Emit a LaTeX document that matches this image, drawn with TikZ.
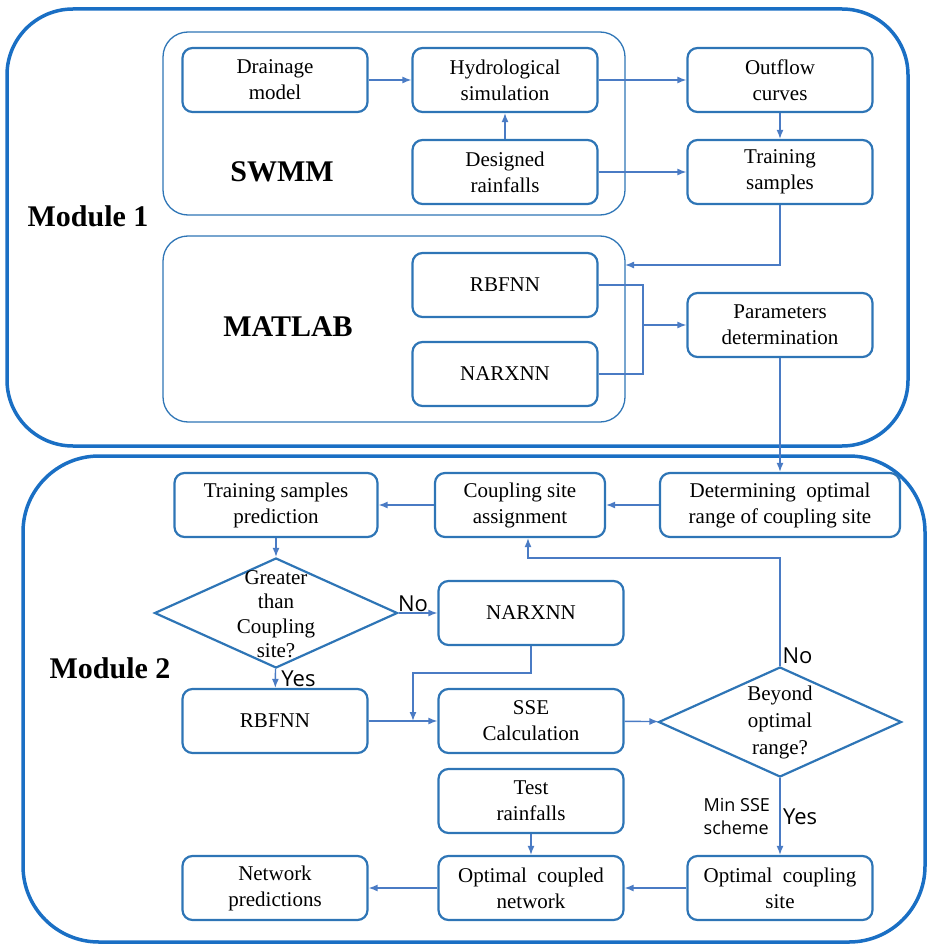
\documentclass[tikz,border=0pt]{standalone}
\usepackage{fontspec}
\setmainfont{Liberation Serif}
\newfontfamily\answerfont{Open Sans}
\usetikzlibrary{shapes.geometric,arrows.meta,positioning}
\definecolor{boxblue}{HTML}{2E75B6}
\definecolor{linkblue}{HTML}{4A7BC4}
\definecolor{modblue}{HTML}{1A6FC4}
\tikzset{
	block/.style={draw=boxblue, line width=2.2pt, rounded corners=10pt, minimum width=185pt, minimum height=64pt, align=center, inner sep=2pt, font=\fontsize{21}{26}\selectfont},
	decision/.style={draw=boxblue, line width=2.2pt, diamond, minimum width=243pt, minimum height=110pt, inner sep=0pt},
	group/.style={draw=boxblue, line width=1.3pt, rounded corners=25pt},
	module/.style={draw=modblue, line width=3.5pt, rounded corners=66pt},
	link/.style={draw=linkblue, line width=1.4pt, -{Latex[length=9pt,width=7pt]}},
	plain/.style={draw=linkblue, line width=1.4pt},
	title/.style={font=\fontsize{30}{36}\selectfont\bfseries},
	answer/.style={font=\answerfont\fontsize{22}{26}\selectfont},
}
\begin{document}
\begin{tikzpicture}[x=1pt,y=-1pt]
	\useasboundingbox (0,0) rectangle (927,944);
	%Modules
	\draw[module] (7,9) rectangle (908,446);
	\draw[module, rounded corners=76pt] (23,456) rectangle (925,942);
	\node[title] (mod1) at (88,216) {Module 1};
	\node[title] (mod2) at (110,668) {Module 2};
	
	%SWMM
	\draw[group] (163,32) rectangle (625,215);
	\node[title] (swmm) at (282,172) {SWMM};
	\node[block] (drain) at (275,80) {Drainage\\model};
	\node[block] (hydro) at (505,80) {Hydrological\\simulation};
	\node[block] (design) at (505,172) {Designed\\rainfalls};
	\node[block] (outflow) at (780,80) {Outflow\\curves};
	\node[block] (train) at (780,172) {Training\\samples};
	\draw[link] (drain) -- (hydro);
	\draw[link] (design) -- (hydro);
	\draw[link] (hydro) -- (outflow);
	\draw[link] (design) -- (train);
	\draw[link] (outflow) -- (train);
	
	%MATLAB
	\draw[group] (163,236) rectangle (625,422);
	\node[title] (matlab) at (288,327) {MATLAB};
	\node[block] (rbfa) at (505,285) {RBFNN};
	\node[block] (narxa) at (505,374) {NARXNN};
	\node[block] (param) at (780,325) {Parameters\\determination};
	\coordinate (matin) at (625,265);
	\draw[link] (train.south) |- (matin);
	\coordinate (merge) at (643,325);
	\draw[plain] (rbfa.east) -| (merge);
	\draw[plain] (narxa.east) -| (merge);
	\draw[link] (merge) -- (param);
	
	%Coupling
	\node[block, minimum width=240pt] (range) at (780,505) {Determining \ optimal\\range of coupling site};
	\node[block, minimum width=170pt] (assign) at (520,505) {Coupling site\\assignment};
	\node[block, minimum width=203pt] (predict) at (276,505) {Training samples\\prediction};
	\draw[link] (param) -- (range);
	\draw[link] (range) -- (assign);
	\draw[link] (assign) -- (predict);
	
	%Greater than coupling site
	\node[decision] (greater) at (276,613) {};
	\node[align=center, font=\fontsize{21}{24.5}\selectfont] (greatertxt) at (276,614) {Greater\\than\\Coupling\\site?};
	\node[block] (narxb) at (531,613) {NARXNN};
	\node[block] (rbfb) at (275,721) {RBFNN};
	\node[block] (sse) at (531,721) {SSE\\Calculation};
	\draw[link] (predict) -- (greater);
	\draw[link] (greater) -- (narxb) node[answer, pos=0.37, above=-3pt] {No};
	\draw[link] (greater) -- (rbfb) node[answer, midway, right=2pt] {Yes};
	\coordinate (join) at (413,673);
	\draw[link] (narxb.south) |- (join) -- (join |- sse.west);
	\draw[link] (rbfb) -- (sse);
	
	%Beyond optimal range
	\node[decision] (beyond) at (780,722) {};
	\node[align=center, font=\fontsize{21}{27}\selectfont] (beyondtxt) at (780,722) {Beyond\\optimal\\range?};
	\draw[link] (sse) -- (beyond);
	\coordinate (back) at (528,558);
	\draw[link] (beyond.north) node[answer, above right=-2pt] {No} |- (back) -- (back |- assign.south);
	
	%Output
	\node[block] (cpsite) at (780,888) {Optimal \ coupling\\site};
	\node[block] (test) at (531,801) {Test\\rainfalls};
	\node[block] (coupled) at (531,888) {Optimal \ coupled\\network};
	\node[block] (netpred) at (275,888) {Network\\predictions};
	\draw[link] (beyond) -- (cpsite) node[answer, midway, right=-1pt] {Yes}
		node[midway, left=6pt, align=left, font=\answerfont\fontsize{18}{23}\selectfont] {Min SSE\\scheme};
	\draw[link] (test) -- (coupled);
	\draw[link] (cpsite) -- (coupled);
	\draw[link] (coupled) -- (netpred);
	
\end{tikzpicture}
\end{document}
